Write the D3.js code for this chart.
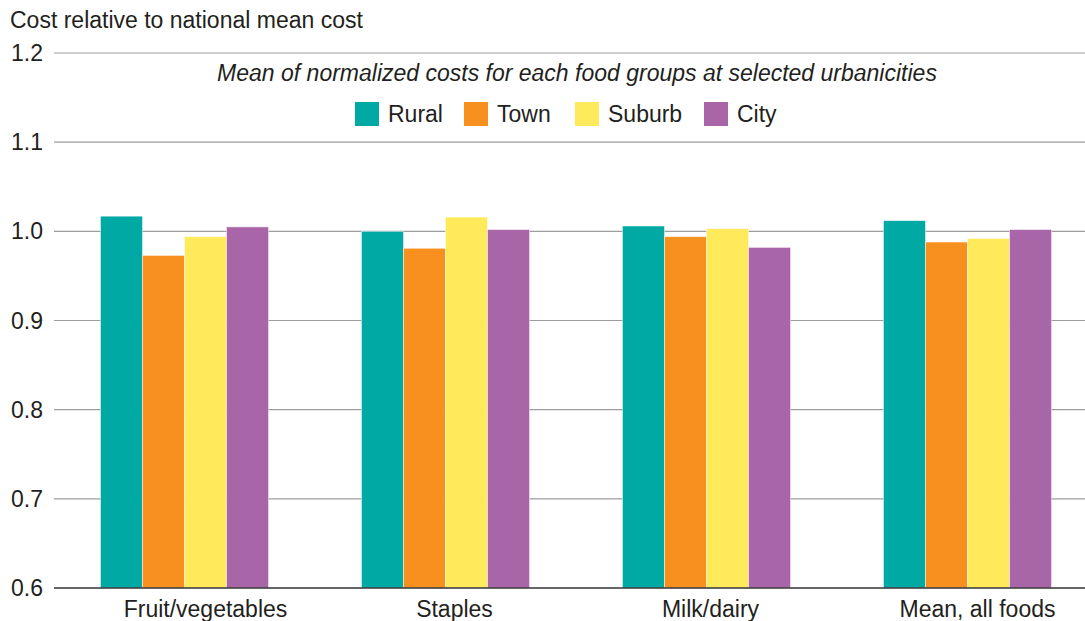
<!DOCTYPE html>
<html><head><meta charset="utf-8">
<script src="https://cdn.jsdelivr.net/npm/d3@7"></script>
<style>body{margin:0;background:#fff}svg{display:block;font-family:"Liberation Sans",Arial,sans-serif}</style>
</head><body><svg id="c" width="1085" height="621"></svg>
<script>
const categories = ["Fruit/vegetables","Staples","Milk/dairy","Mean, all foods"];
const seriesNames = ["Rural","Town","Suburb","City"];
const rural  = [1.017, 1.000, 1.006, 1.012];
const town   = [0.973, 0.981, 0.994, 0.988];
const suburb = [0.994, 1.016, 1.003, 0.992];
const city   = [1.005, 1.002, 0.982, 1.002];
const yTicks = [0.6,0.7,0.8,0.9,1.0,1.1,1.2];
const colors = ["#00a9a3","#f7901e","#feea5b","#a866a9"];
const series = [rural, town, suburb, city];

(function(){
const svg = d3.select("#c");
const fs = 23;
const mLeft = 54, mRight = 1098, mTop = 53, mBottom = 588;
const labelShift = [21, 9, 4, 10];
const y = d3.scaleLinear().domain([0.6,1.2]).range([mBottom, mTop]);
const x0 = d3.scaleBand().domain(categories).range([mLeft, mRight]).paddingInner(0.356).paddingOuter(0.178);
const x1 = d3.scaleBand().domain(seriesNames).range([0, x0.bandwidth()]);

svg.append("g").selectAll("line").data(yTicks.slice(1)).join("line")
  .attr("x1", mLeft).attr("x2", 1085).attr("y1", d=>y(d)).attr("y2", d=>y(d))
  .attr("stroke","#9d9d9d").attr("stroke-width",1.2);

const g = svg.append("g");
categories.forEach((c,i)=>{
  seriesNames.forEach((s,j)=>{
    g.append("rect").attr("x", x0(c)+x1(s)).attr("width", x1.bandwidth())
      .attr("y", y(series[j][i])).attr("height", mBottom - y(series[j][i]))
      .attr("fill", colors[j]).attr("stroke","#fff").attr("stroke-width",0.8).attr("stroke-opacity",0.6);
  });
});

svg.append("line").attr("x1",mLeft).attr("x2",1085).attr("y1",mBottom).attr("y2",mBottom)
  .attr("stroke","#333").attr("stroke-width",1.5);

svg.append("g").selectAll("text").data(yTicks).join("text")
  .attr("x",43).attr("y",d=>y(d)+8).attr("text-anchor","end")
  .attr("font-size",fs).attr("fill","#231f20").text(d=>d.toFixed(1));

svg.append("g").selectAll("text").data(categories).join("text")
  .attr("x",(d,i)=>x0(d)+x0.bandwidth()/2+labelShift[i]).attr("y",617).attr("text-anchor","middle")
  .attr("font-size",fs).attr("fill","#231f20").text(d=>d);

svg.append("text").attr("x",10).attr("y",28).attr("font-size",fs).attr("fill","#231f20")
  .text("Cost relative to national mean cost");

svg.append("text").attr("x",577).attr("y",81).attr("text-anchor","middle")
  .attr("font-size",fs).attr("font-style","italic").attr("fill","#231f20")
  .text("Mean of normalized costs for each food groups at selected urbanicities");

const legX = [355,464,575,704];
seriesNames.forEach((s,j)=>{
  svg.append("rect").attr("x",legX[j]).attr("y",102).attr("width",24).attr("height",24).attr("fill",colors[j]);
  svg.append("text").attr("x",legX[j]+33).attr("y",122).attr("font-size",fs).attr("fill","#231f20").text(s);
});
})();
</script></body></html>
